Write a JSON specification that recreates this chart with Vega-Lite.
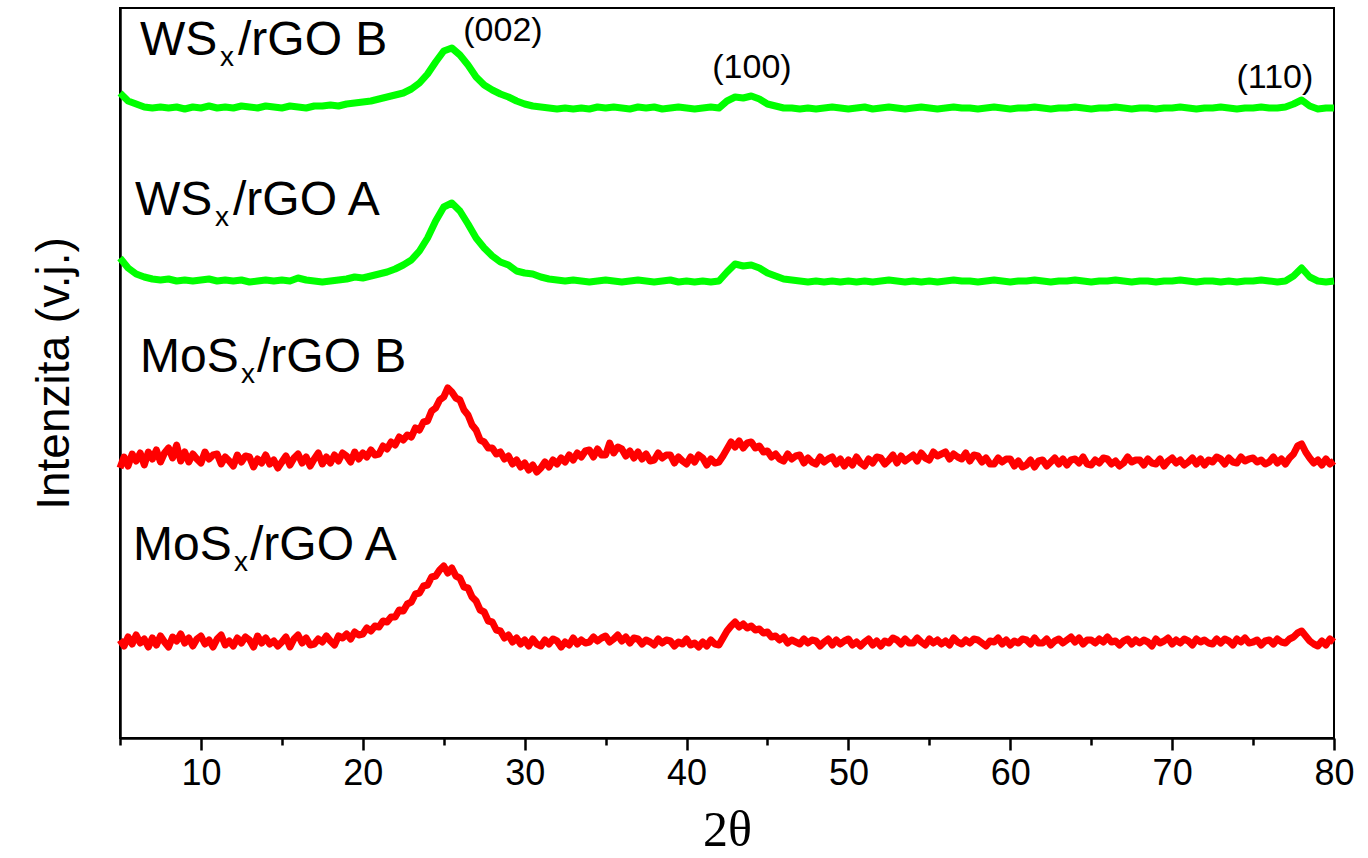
{
"$schema":"https://vega.github.io/schema/vega-lite/v6.json",
"autosize":{"type":"none"},
"width":1214,"height":730,
"padding":{"left":120,"top":8,"right":34,"bottom":120},
"background":"white",
"config":{"view":{"stroke":"black","strokeWidth":2},"font":"Liberation Sans"},
"datasets":{
"red":[
{"x":5,"a":98,"b":270},{"x":5.25,"a":92,"b":281},{"x":5.5,"a":101,"b":272},{"x":5.75,"a":94,"b":284},
{"x":6,"a":103,"b":277},{"x":6.25,"a":95,"b":285},{"x":6.5,"a":99,"b":273},{"x":6.75,"a":91,"b":286},
{"x":7,"a":100,"b":279},{"x":7.25,"a":93,"b":288},{"x":7.5,"a":102,"b":276},{"x":7.75,"a":96,"b":285},
{"x":8,"a":91,"b":290},{"x":8.25,"a":101,"b":280},{"x":8.5,"a":97,"b":293},{"x":8.75,"a":104,"b":277},
{"x":9,"a":95,"b":286},{"x":9.25,"a":100,"b":276},{"x":9.5,"a":92,"b":284},{"x":9.75,"a":99,"b":279},
{"x":10,"a":102,"b":275},{"x":10.25,"a":94,"b":286},{"x":10.5,"a":98,"b":279},{"x":10.75,"a":91,"b":283},
{"x":11,"a":99,"b":284},{"x":11.25,"a":103,"b":274},{"x":11.5,"a":93,"b":281},{"x":11.75,"a":97,"b":277},
{"x":12,"a":92,"b":272},{"x":12.25,"a":100,"b":283},{"x":12.5,"a":95,"b":276},{"x":12.75,"a":101,"b":282},
{"x":13,"a":98,"b":281},{"x":13.25,"a":91,"b":271},{"x":13.5,"a":102,"b":279},{"x":13.75,"a":95,"b":275},
{"x":14,"a":100,"b":283},{"x":14.25,"a":94,"b":274},{"x":14.5,"a":97,"b":278},{"x":14.75,"a":92,"b":270},
{"x":15,"a":96,"b":276},{"x":15.25,"a":101,"b":282},{"x":15.5,"a":91,"b":273},{"x":15.75,"a":99,"b":280},
{"x":16,"a":103,"b":284},{"x":16.25,"a":95,"b":275},{"x":16.5,"a":100,"b":281},{"x":16.75,"a":93,"b":272},
{"x":17,"a":94,"b":279},{"x":17.25,"a":99,"b":285},{"x":17.5,"a":96,"b":274},{"x":17.75,"a":102,"b":281},
{"x":18,"a":97,"b":275},{"x":18.25,"a":93,"b":283},{"x":18.5,"a":102,"b":277},{"x":18.75,"a":100,"b":285},
{"x":19,"a":104,"b":282},{"x":19.25,"a":99,"b":276},{"x":19.5,"a":106,"b":286},{"x":19.75,"a":103,"b":279},
{"x":20,"a":104,"b":285},{"x":20.25,"a":110,"b":281},{"x":20.5,"a":107,"b":288},{"x":20.75,"a":112,"b":283},
{"x":21,"a":111,"b":284},{"x":21.25,"a":117,"b":292},{"x":21.5,"a":116,"b":289},{"x":21.75,"a":121,"b":296},
{"x":22,"a":121,"b":293},{"x":22.25,"a":128,"b":301},{"x":22.5,"a":127,"b":298},{"x":22.75,"a":134,"b":303},
{"x":23,"a":136,"b":301},{"x":23.25,"a":144,"b":310},{"x":23.5,"a":145,"b":308},{"x":23.75,"a":152,"b":316},
{"x":24,"a":153,"b":317},{"x":24.25,"a":161,"b":327},{"x":24.5,"a":162,"b":330},{"x":24.75,"a":168,"b":338},
{"x":25,"a":172,"b":341},{"x":25.25,"a":165,"b":350},{"x":25.5,"a":170,"b":346},{"x":25.75,"a":162,"b":340},
{"x":26,"a":160,"b":338},{"x":26.25,"a":151,"b":328},{"x":26.5,"a":150,"b":323},{"x":26.75,"a":141,"b":313},
{"x":27,"a":137,"b":308},{"x":27.25,"a":128,"b":298},{"x":27.5,"a":126,"b":296},{"x":27.75,"a":117,"b":290},
{"x":28,"a":116,"b":290},{"x":28.25,"a":108,"b":284},{"x":28.5,"a":107,"b":286},{"x":28.75,"a":100,"b":279},
{"x":29,"a":103,"b":282},{"x":29.25,"a":96,"b":274},{"x":29.5,"a":100,"b":278},{"x":29.75,"a":94,"b":271},
{"x":30,"a":98,"b":275},{"x":30.25,"a":92,"b":268},{"x":30.5,"a":99,"b":273},{"x":30.75,"a":94,"b":266},
{"x":31,"a":92,"b":270},{"x":31.25,"a":98,"b":276},{"x":31.5,"a":94,"b":271},{"x":31.75,"a":99,"b":278},
{"x":32,"a":97,"b":274},{"x":32.25,"a":91,"b":280},{"x":32.5,"a":96,"b":276},{"x":32.75,"a":93,"b":283},
{"x":33,"a":100,"b":278},{"x":33.25,"a":94,"b":285},{"x":33.5,"a":98,"b":281},{"x":33.75,"a":95,"b":287},
{"x":34,"a":96,"b":288},{"x":34.25,"a":101,"b":281},{"x":34.5,"a":97,"b":289},{"x":34.75,"a":100,"b":283},
{"x":35,"a":102,"b":283},{"x":35.25,"a":96,"b":295},{"x":35.5,"a":99,"b":285},{"x":35.75,"a":103,"b":291},
{"x":36,"a":97,"b":289},{"x":36.25,"a":101,"b":282},{"x":36.5,"a":95,"b":287},{"x":36.75,"a":100,"b":280},
{"x":37,"a":99,"b":286},{"x":37.25,"a":94,"b":279},{"x":37.5,"a":98,"b":284},{"x":37.75,"a":96,"b":277},
{"x":38,"a":93,"b":278},{"x":38.25,"a":99,"b":285},{"x":38.5,"a":95,"b":280},{"x":38.75,"a":98,"b":283},
{"x":39,"a":97,"b":283},{"x":39.25,"a":92,"b":275},{"x":39.5,"a":96,"b":281},{"x":39.75,"a":94,"b":277},
{"x":40,"a":99,"b":274},{"x":40.25,"a":93,"b":281},{"x":40.5,"a":95,"b":276},{"x":40.75,"a":91,"b":283},
{"x":41,"a":96,"b":280},{"x":41.25,"a":92,"b":273},{"x":41.5,"a":98,"b":279},{"x":41.75,"a":94,"b":275},
{"x":42,"a":93,"b":276},{"x":42.25,"a":100,"b":282},{"x":42.5,"a":107,"b":289},{"x":42.75,"a":112,"b":296},
{"x":43,"a":116,"b":291},{"x":43.25,"a":111,"b":297},{"x":43.5,"a":114,"b":290},{"x":43.75,"a":110,"b":295},
{"x":44,"a":112,"b":296},{"x":44.25,"a":108,"b":290},{"x":44.5,"a":109,"b":292},{"x":44.75,"a":105,"b":286},
{"x":45,"a":106,"b":287},{"x":45.25,"a":101,"b":281},{"x":45.5,"a":102,"b":284},{"x":45.75,"a":98,"b":279},
{"x":46,"a":101,"b":277},{"x":46.25,"a":95,"b":284},{"x":46.5,"a":98,"b":279},{"x":46.75,"a":96,"b":282},
{"x":47,"a":94,"b":283},{"x":47.25,"a":99,"b":275},{"x":47.5,"a":95,"b":280},{"x":47.75,"a":98,"b":276},
{"x":48,"a":97,"b":274},{"x":48.25,"a":92,"b":281},{"x":48.5,"a":96,"b":276},{"x":48.75,"a":99,"b":279},
{"x":49,"a":93,"b":281},{"x":49.25,"a":98,"b":274},{"x":49.5,"a":94,"b":279},{"x":49.75,"a":97,"b":272},
{"x":50,"a":99,"b":278},{"x":50.25,"a":93,"b":273},{"x":50.5,"a":96,"b":281},{"x":50.75,"a":92,"b":275},
{"x":51,"a":96,"b":272},{"x":51.25,"a":99,"b":279},{"x":51.5,"a":93,"b":275},{"x":51.75,"a":97,"b":281},
{"x":52,"a":92,"b":280},{"x":52.25,"a":97,"b":274},{"x":52.5,"a":95,"b":278},{"x":52.75,"a":100,"b":283},
{"x":53,"a":98,"b":275},{"x":53.25,"a":94,"b":282},{"x":53.5,"a":99,"b":277},{"x":53.75,"a":95,"b":280},
{"x":54,"a":95,"b":283},{"x":54.25,"a":100,"b":277},{"x":54.5,"a":96,"b":285},{"x":54.75,"a":93,"b":280},
{"x":55,"a":99,"b":278},{"x":55.25,"a":95,"b":286},{"x":55.5,"a":98,"b":282},{"x":55.75,"a":94,"b":284},
{"x":56,"a":97,"b":286},{"x":56.25,"a":93,"b":279},{"x":56.5,"a":100,"b":284},{"x":56.75,"a":96,"b":281},
{"x":57,"a":94,"b":279},{"x":57.25,"a":98,"b":285},{"x":57.5,"a":95,"b":277},{"x":57.75,"a":99,"b":283},
{"x":58,"a":98,"b":282},{"x":58.25,"a":95,"b":276},{"x":58.5,"a":92,"b":280},{"x":58.75,"a":97,"b":274},
{"x":59,"a":96,"b":274},{"x":59.25,"a":100,"b":280},{"x":59.5,"a":94,"b":276},{"x":59.75,"a":98,"b":279},
{"x":60,"a":93,"b":279},{"x":60.25,"a":97,"b":272},{"x":60.5,"a":95,"b":277},{"x":60.75,"a":99,"b":271},
{"x":61,"a":98,"b":273},{"x":61.25,"a":94,"b":278},{"x":61.5,"a":100,"b":271},{"x":61.75,"a":95,"b":277},
{"x":62,"a":95,"b":278},{"x":62.25,"a":99,"b":272},{"x":62.5,"a":93,"b":276},{"x":62.75,"a":97,"b":280},
{"x":63,"a":99,"b":274},{"x":63.25,"a":95,"b":279},{"x":63.5,"a":98,"b":273},{"x":63.75,"a":101,"b":278},
{"x":64,"a":96,"b":279},{"x":64.25,"a":100,"b":275},{"x":64.5,"a":94,"b":281},{"x":64.75,"a":98,"b":274},
{"x":65,"a":98,"b":273},{"x":65.25,"a":95,"b":278},{"x":65.5,"a":99,"b":275},{"x":65.75,"a":96,"b":280},
{"x":66,"a":101,"b":279},{"x":66.25,"a":96,"b":274},{"x":66.5,"a":97,"b":277},{"x":66.75,"a":93,"b":272},
{"x":67,"a":97,"b":275},{"x":67.25,"a":99,"b":281},{"x":67.5,"a":94,"b":276},{"x":67.75,"a":98,"b":278},
{"x":68,"a":95,"b":278},{"x":68.25,"a":98,"b":273},{"x":68.5,"a":96,"b":279},{"x":68.75,"a":92,"b":275},
{"x":69,"a":99,"b":274},{"x":69.25,"a":95,"b":279},{"x":69.5,"a":97,"b":272},{"x":69.75,"a":100,"b":277},
{"x":70,"a":94,"b":280},{"x":70.25,"a":98,"b":275},{"x":70.5,"a":95,"b":278},{"x":70.75,"a":99,"b":273},
{"x":71,"a":97,"b":276},{"x":71.25,"a":93,"b":280},{"x":71.5,"a":99,"b":274},{"x":71.75,"a":96,"b":279},
{"x":72,"a":98,"b":273},{"x":72.25,"a":95,"b":278},{"x":72.5,"a":94,"b":276},{"x":72.75,"a":99,"b":281},
{"x":73,"a":95,"b":279},{"x":73.25,"a":99,"b":274},{"x":73.5,"a":97,"b":280},{"x":73.75,"a":93,"b":276},
{"x":74,"a":99,"b":275},{"x":74.25,"a":96,"b":281},{"x":74.5,"a":100,"b":277},{"x":74.75,"a":95,"b":279},
{"x":75,"a":96,"b":280},{"x":75.25,"a":98,"b":276},{"x":75.5,"a":93,"b":278},{"x":75.75,"a":97,"b":274},
{"x":76,"a":98,"b":276},{"x":76.25,"a":94,"b":281},{"x":76.5,"a":99,"b":275},{"x":76.75,"a":96,"b":279},
{"x":77,"a":95,"b":274},{"x":77.25,"a":99,"b":280},{"x":77.5,"a":101,"b":284},{"x":77.75,"a":105,"b":292},
{"x":78,"a":107,"b":294},{"x":78.25,"a":102,"b":286},{"x":78.5,"a":97,"b":280},{"x":78.75,"a":94,"b":275},
{"x":79,"a":92,"b":278},{"x":79.25,"a":97,"b":273},{"x":79.5,"a":93,"b":279},{"x":79.75,"a":99,"b":274},
{"x":80,"a":96,"b":277}
],
"green":[
{"x":5,"c":480,"d":645},{"x":5.5,"c":470,"d":637},{"x":6,"c":464,"d":634},{"x":6.5,"c":461,"d":631},
{"x":7,"c":459,"d":630},{"x":7.5,"c":458,"d":631},{"x":8,"c":459,"d":630},{"x":8.5,"c":457,"d":631},
{"x":9,"c":458,"d":629},{"x":9.5,"c":457,"d":631},{"x":10,"c":458,"d":630},{"x":10.5,"c":459,"d":632},
{"x":11,"c":457,"d":630},{"x":11.5,"c":458,"d":631},{"x":12,"c":457,"d":630},{"x":12.5,"c":458,"d":632},
{"x":13,"c":456,"d":631},{"x":13.5,"c":457,"d":630},{"x":14,"c":458,"d":632},{"x":14.5,"c":457,"d":631},
{"x":15,"c":458,"d":630},{"x":15.5,"c":457,"d":632},{"x":16,"c":460,"d":631},{"x":16.5,"c":458,"d":630},
{"x":17,"c":457,"d":632},{"x":17.5,"c":456,"d":632},{"x":18,"c":457,"d":633},{"x":18.5,"c":458,"d":632},
{"x":19,"c":459,"d":634},{"x":19.5,"c":461,"d":635},{"x":20,"c":460,"d":636},{"x":20.5,"c":462,"d":637},
{"x":21,"c":464,"d":639},{"x":21.5,"c":466,"d":641},{"x":22,"c":469,"d":643},{"x":22.5,"c":473,"d":645},
{"x":23,"c":478,"d":649},{"x":23.5,"c":487,"d":655},{"x":24,"c":500,"d":664},{"x":24.5,"c":517,"d":676},
{"x":25,"c":531,"d":687},{"x":25.5,"c":535,"d":690},{"x":26,"c":527,"d":683},{"x":26.5,"c":514,"d":673},
{"x":27,"c":500,"d":661},{"x":27.5,"c":490,"d":653},{"x":28,"c":482,"d":648},{"x":28.5,"c":476,"d":644},
{"x":29,"c":473,"d":641},{"x":29.5,"c":467,"d":637},{"x":30,"c":465,"d":634},{"x":30.5,"c":464,"d":632},
{"x":31,"c":461,"d":631},{"x":31.5,"c":459,"d":630},{"x":32,"c":458,"d":629},{"x":32.5,"c":457,"d":630},
{"x":33,"c":458,"d":629},{"x":33.5,"c":457,"d":630},{"x":34,"c":456,"d":629},{"x":34.5,"c":457,"d":631},
{"x":35,"c":458,"d":630},{"x":35.5,"c":457,"d":631},{"x":36,"c":456,"d":630},{"x":36.5,"c":457,"d":629},
{"x":37,"c":458,"d":631},{"x":37.5,"c":457,"d":630},{"x":38,"c":456,"d":631},{"x":38.5,"c":457,"d":629},
{"x":39,"c":458,"d":630},{"x":39.5,"c":456,"d":631},{"x":40,"c":457,"d":630},{"x":40.5,"c":456,"d":629},
{"x":41,"c":457,"d":630},{"x":41.5,"c":456,"d":631},{"x":42,"c":457,"d":630},{"x":42.5,"c":466,"d":637},
{"x":43,"c":474,"d":641},{"x":43.5,"c":472,"d":640},{"x":44,"c":473,"d":642},{"x":44.5,"c":470,"d":639},
{"x":45,"c":465,"d":634},{"x":45.5,"c":462,"d":632},{"x":46,"c":459,"d":630},{"x":46.5,"c":458,"d":630},
{"x":47,"c":457,"d":629},{"x":47.5,"c":456,"d":630},{"x":48,"c":457,"d":629},{"x":48.5,"c":456,"d":630},
{"x":49,"c":457,"d":631},{"x":49.5,"c":456,"d":630},{"x":50,"c":457,"d":629},{"x":50.5,"c":456,"d":630},
{"x":51,"c":457,"d":631},{"x":51.5,"c":456,"d":629},{"x":52,"c":457,"d":630},{"x":52.5,"c":458,"d":631},
{"x":53,"c":457,"d":630},{"x":53.5,"c":456,"d":629},{"x":54,"c":457,"d":630},{"x":54.5,"c":456,"d":631},
{"x":55,"c":457,"d":630},{"x":55.5,"c":456,"d":629},{"x":56,"c":457,"d":630},{"x":56.5,"c":458,"d":631},
{"x":57,"c":457,"d":630},{"x":57.5,"c":457,"d":630},{"x":58,"c":456,"d":629},{"x":58.5,"c":457,"d":630},
{"x":59,"c":458,"d":631},{"x":59.5,"c":457,"d":630},{"x":60,"c":456,"d":629},{"x":60.5,"c":457,"d":630},
{"x":61,"c":457,"d":630},{"x":61.5,"c":458,"d":631},{"x":62,"c":457,"d":630},{"x":62.5,"c":456,"d":629},
{"x":63,"c":457,"d":630},{"x":63.5,"c":457,"d":630},{"x":64,"c":458,"d":631},{"x":64.5,"c":457,"d":630},
{"x":65,"c":456,"d":629},{"x":65.5,"c":457,"d":630},{"x":66,"c":457,"d":630},{"x":66.5,"c":458,"d":631},
{"x":67,"c":457,"d":630},{"x":67.5,"c":456,"d":629},{"x":68,"c":457,"d":630},{"x":68.5,"c":457,"d":630},
{"x":69,"c":456,"d":629},{"x":69.5,"c":457,"d":630},{"x":70,"c":457,"d":630},{"x":70.5,"c":458,"d":631},
{"x":71,"c":457,"d":630},{"x":71.5,"c":456,"d":629},{"x":72,"c":457,"d":630},{"x":72.5,"c":457,"d":630},
{"x":73,"c":456,"d":631},{"x":73.5,"c":457,"d":630},{"x":74,"c":456,"d":629},{"x":74.5,"c":457,"d":630},
{"x":75,"c":457,"d":630},{"x":75.5,"c":458,"d":631},{"x":76,"c":457,"d":630},{"x":76.5,"c":456,"d":630},
{"x":77,"c":457,"d":631},{"x":77.5,"c":462,"d":634},{"x":78,"c":470,"d":638},{"x":78.5,"c":461,"d":632},
{"x":79,"c":457,"d":629},{"x":79.5,"c":456,"d":630},{"x":80,"c":457,"d":630}
],
"main":[
{"x":6.236,"y":683,"t":"WS"},{"x":12.29,"y":683,"t":"/rGO B"},
{"x":5.927,"y":523,"t":"WS"},{"x":11.981,"y":523,"t":"/rGO A"},
{"x":6.236,"y":366,"t":"MoS"},{"x":13.464,"y":366,"t":"/rGO B"},
{"x":5.803,"y":178,"t":"MoS"},{"x":13.031,"y":178,"t":"/rGO A"}
],
"sub":[
{"x":11.178,"y":672,"t":"x"},{"x":10.869,"y":512,"t":"x"},{"x":12.475,"y":355,"t":"x"},{"x":12.043,"y":167,"t":"x"}
],
"hkl":[
{"x":28.66,"y":697,"t":"(002)"},{"x":44.04,"y":660,"t":"(100)"},{"x":76.35,"y":650,"t":"(110)"}
]
},
"encoding":{
"x":{"field":"x","type":"quantitative","scale":{"domain":[5,80],"nice":false,"zero":false},
"axis":{"title":"2θ","titleFont":"Liberation Serif","titleFontSize":50,"titleFontWeight":"normal","titleColor":"black","titlePadding":14,
"values":[5,10,15,20,25,30,35,40,45,50,55,60,65,70,75,80],
"labelExpr":"datum.value % 10 === 0 ? datum.label : ''",
"labelFont":"Liberation Sans","labelFontSize":36,"labelColor":"black","labelPadding":6,"labelFlush":false,"labelOverlap":false,
"tickSize":{"condition":{"test":"datum.value % 10 === 0","value":12},"value":7},
"tickWidth":2.5,"tickColor":"black","domainColor":"black","domainWidth":2.5,"grid":false}},
"y":{"field":"y","type":"quantitative","scale":{"domain":[0,730],"nice":false,"zero":false},
"axis":{"title":"Intenzita (v.j.)","titleFont":"Liberation Sans","titleFontSize":46,"titleFontWeight":"normal","titleColor":"black","titlePadding":42,
"labels":false,"ticks":false,"grid":false,"domainColor":"black","domainWidth":2.5}}
},
"layer":[
{"data":{"name":"red"},"transform":[{"fold":["a","b"],"as":["series","y"]}],
"mark":{"type":"line","color":"#ff0000","strokeWidth":7,"strokeJoin":"round"},
"encoding":{"detail":{"field":"series"}}},
{"data":{"name":"green"},"transform":[{"fold":["c","d"],"as":["series","y"]}],
"mark":{"type":"line","color":"#00ff00","strokeWidth":7,"strokeJoin":"round"},
"encoding":{"detail":{"field":"series"}}},
{"data":{"name":"main"},"mark":{"type":"text","align":"left","baseline":"alphabetic","fontSize":48,"font":"Liberation Sans","color":"black"},
"encoding":{"text":{"field":"t"}}},
{"data":{"name":"sub"},"mark":{"type":"text","align":"left","baseline":"alphabetic","fontSize":28,"font":"Liberation Sans","color":"black"},
"encoding":{"text":{"field":"t"}}},
{"data":{"name":"hkl"},"mark":{"type":"text","align":"center","baseline":"alphabetic","fontSize":34,"font":"Liberation Sans","color":"black"},
"encoding":{"text":{"field":"t"}}}
]
}
